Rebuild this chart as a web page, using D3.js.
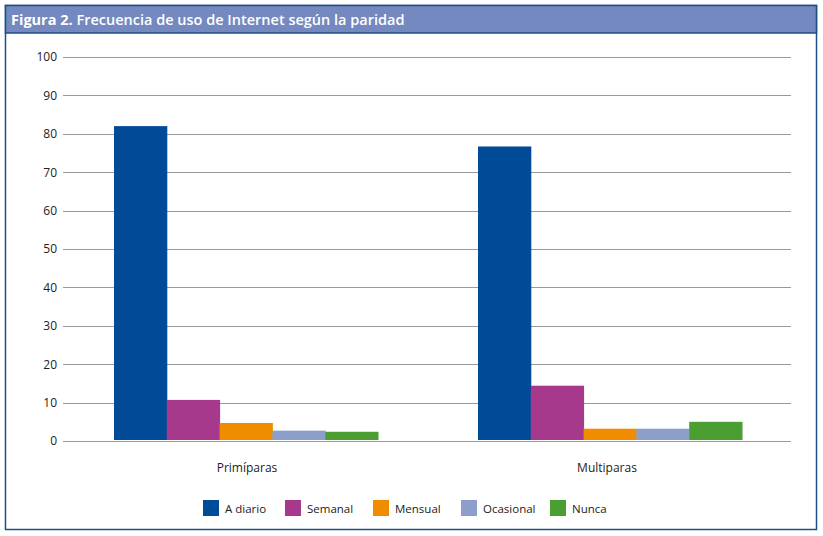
<!DOCTYPE html>
<html><head><meta charset="utf-8">
<script src="https://cdn.jsdelivr.net/npm/d3@7"></script>
<style>body{margin:0;background:#fff}svg{display:block}</style>
</head><body>
<svg id="c" width="823" height="536"></svg>
<script>
const categories = ["Primíparas", "Multiparas"];
const seriesNames = ["A diario", "Semanal", "Mensual", "Ocasional", "Nunca"];
const aDiario = [82, 76.7];
const semanal = [10.7, 14.4];
const mensual = [4.7, 3.2];
const ocasional = [2.7, 3.2];
const nunca = [2.4, 5.0];
const yTicks = [0,10,20,30,40,50,60,70,80,90,100];
const colors = ["#004a98", "#a6398c", "#f08c00", "#8c9fcb", "#4a9e32"];
const seriesValues = [aDiario, semanal, mensual, ocasional, nunca];

const svg = d3.select("#c");
const font = "'Open Sans', 'Noto Sans', sans-serif";

// frame
svg.append("rect").attr("x",5.5).attr("y",5.5).attr("width",811).attr("height",524)
  .attr("fill","#fff").attr("stroke","#1d4f86").attr("stroke-width",1.5);
svg.append("rect").attr("x",5.5).attr("y",5.5).attr("width",811).attr("height",27.5)
  .attr("fill","#7389bf").attr("stroke","#1d4f86").attr("stroke-width",1.5);
svg.append("text").attr("x",11).attr("y",25).attr("fill","#fff")
  .attr("font-family",font).attr("font-size",14.5)
  .html('<tspan font-weight="bold">Figura 2.</tspan><tspan font-weight="600"> Frecuencia de uso de Internet según la paridad</tspan>');

const x0 = d3.scaleBand().domain(categories).range([64,792]).paddingInner(0).paddingOuter(0);
const y = d3.scaleLinear().domain([0,100]).range([441,57]);
const inner = 264;

// grid
const yAxis = d3.axisLeft(y).tickValues(yTicks).tickSize(0).tickPadding(0);
const ga = svg.append("g").attr("transform","translate(57,0)").call(yAxis);
ga.select(".domain").remove();
ga.selectAll("text").attr("font-family",font).attr("font-size",12).attr("fill","#222");
svg.append("g").selectAll("line").data(yTicks).join("line")
  .attr("x1",63).attr("x2",791).attr("y1",d=>Math.round(y(d))+0.5).attr("y2",d=>Math.round(y(d))+0.5)
  .attr("stroke","#999").attr("stroke-width",1);

const x1 = d3.scaleBand().domain(seriesNames).range([0, inner]).padding(0);

categories.forEach((cat, ci) => {
  const gx = x0(cat) + (x0.bandwidth() - inner)/2;
  const g = svg.append("g").attr("transform",`translate(${gx},0)`);
  g.selectAll("rect").data(seriesNames.map((s,si)=>({s, v: seriesValues[si][ci], c: colors[si]})))
    .join("rect")
    .attr("x", d=>x1(d.s)).attr("width", x1.bandwidth()+0.5)
    .attr("y", d=>y(d.v)).attr("height", d=>y(0)-1-y(d.v))
    .attr("fill", d=>d.c);
  svg.append("text").attr("x", x0(cat)+x0.bandwidth()/2 + (ci===0?1:-3)).attr("y",472)
    .attr("text-anchor","middle").attr("font-family",font).attr("font-size",12).attr("fill","#222")
    .text(cat);
});

// legend
const legX = [203, 285, 373, 461, 550];
const lg = svg.append("g");
seriesNames.forEach((s,i)=>{
  lg.append("rect").attr("x",legX[i]).attr("y",500).attr("width",16).attr("height",16).attr("fill",colors[i]);
  lg.append("text").attr("x",legX[i]+22).attr("y",513).attr("font-family",font).attr("font-size",11.5)
    .attr("fill","#222").text(s);
});
</script>
</body></html>
